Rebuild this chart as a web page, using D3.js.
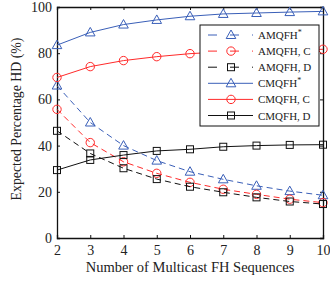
<!DOCTYPE html>
<html>
<head>
<meta charset="utf-8">
<script src="https://cdn.jsdelivr.net/npm/d3@7"></script>
<style>
  body { margin: 0; background: #fff; }
  text { font-family: "Liberation Serif", "Times New Roman", serif; fill: #222; }
</style>
</head>
<body>
<svg id="plot"></svg>
<script>
// Data
const nSeq = [2, 3, 4, 5, 6, 7, 8, 9, 10];
const amqfhStar = [66, 50, 40, 33.5, 28.7, 25.4, 22.6, 20.3, 18.5];
const amqfhC = [55.7, 41.3, 33, 28, 24.1, 21.1, 18.9, 16.8, 15.3];
const amqfhD = [46.4, 36.6, 30.2, 25.5, 22.2, 19.8, 17.6, 15.8, 14.7];
const cmqfhStar = [83.5, 89, 92.4, 94.4, 96, 97, 97.4, 97.8, 98.1];
const cmqfhC = [69.5, 74.2, 76.8, 78.5, 79.8, 80.6, 81.1, 81.4, 81.7];
const cmqfhD = [29.4, 33.8, 35.9, 37.7, 38.4, 39.5, 40, 40.3, 40.4];
const yTicks = [0, 20, 40, 60, 80, 100];

const blue = "#3a5fb8", red = "#ff2a2a", black = "#111";

const series = [
  { name: "AMQFH", sup: "*", values: amqfhStar, color: blue, marker: "tri", dash: "6,4" },
  { name: "AMQFH, C", values: amqfhC, color: red, marker: "circle", dash: "6,4" },
  { name: "AMQFH, D", values: amqfhD, color: black, marker: "square", dash: "6,4" },
  { name: "CMQFH", sup: "*", values: cmqfhStar, color: blue, marker: "tri", dash: null },
  { name: "CMQFH, C", values: cmqfhC, color: red, marker: "circle", dash: null },
  { name: "CMQFH, D", values: cmqfhD, color: black, marker: "square", dash: null }
];

const W = 330, H = 285;
const margin = { top: 7, right: 7, bottom: 47, left: 57 };
const width = W - margin.left - margin.right;
const height = H - margin.top - margin.bottom;

const svg = d3.select("#plot").attr("width", W).attr("height", H);
const g = svg.append("g").attr("transform", `translate(${margin.left},${margin.top})`);

const x = d3.scaleLinear().domain([2, 10]).range([0, width]);
const y = d3.scaleLinear().domain([0, 100]).range([height, 0]);

// axes (inward ticks, box)
g.append("g").attr("transform", `translate(0,${height})`)
  .call(d3.axisBottom(x).tickValues(nSeq).tickSize(-3).tickPadding(7).tickFormat(d3.format("d")))
  .call(a => a.selectAll("text").attr("font-size", 14));
g.append("g")
  .call(d3.axisLeft(y).tickValues(yTicks).tickSize(-3).tickPadding(5))
  .call(a => a.selectAll("text").attr("font-size", 14));
g.append("g")
  .call(d3.axisTop(x).tickValues(nSeq).tickSize(-3).tickFormat(""));
g.append("g").attr("transform", `translate(${width},0)`)
  .call(d3.axisRight(y).tickValues(yTicks).tickSize(-3).tickFormat(""));
g.selectAll(".domain").attr("stroke", "#111").attr("stroke-width", 1.3);
g.selectAll(".tick line").attr("stroke", "#111");

function drawMarker(sel, type, color) {
  if (type === "circle") {
    sel.append("circle").attr("r", 4.2).attr("fill", "none").attr("stroke", color).attr("stroke-width", 1);
  } else if (type === "tri") {
    sel.append("path").attr("d", "M0,-5L4.8,3.5L-4.8,3.5Z").attr("fill", "none").attr("stroke", color).attr("stroke-width", 1);
  } else {
    sel.append("rect").attr("x", -3.5).attr("y", -3.5).attr("width", 7).attr("height", 7)
      .attr("fill", "none").attr("stroke", color).attr("stroke-width", 1);
  }
}

const line = d3.line().x((d, i) => x(nSeq[i])).y(d => y(d));

series.forEach(s => {
  g.append("path").datum(s.values)
    .attr("d", line).attr("fill", "none")
    .attr("stroke", s.color).attr("stroke-width", 1)
    .attr("stroke-dasharray", s.dash);
  g.selectAll(null).data(s.values).enter().append("g")
    .attr("transform", (d, i) => `translate(${x(nSeq[i])},${y(d)})`)
    .each(function() { drawMarker(d3.select(this), s.marker, s.color); });
});

// legend
const lg = svg.append("g").attr("transform", "translate(200,25)");
lg.append("rect").attr("width", 119).attr("height", 101)
  .attr("fill", "#fff").attr("stroke", "#111").attr("stroke-width", 1);
series.forEach((s, i) => {
  const row = lg.append("g").attr("transform", `translate(0,${10 + i * 16.1})`);
  row.append("line").attr("x1", 8).attr("x2", 53).attr("y1", 0).attr("y2", 0)
    .attr("stroke", s.color).attr("stroke-width", 1)
    .attr("stroke-dasharray", s.dash ? "9,13" : null);
  drawMarker(row.append("g").attr("transform", "translate(31,0)"), s.marker, s.color);
  const t = row.append("text").attr("x", 58).attr("y", 4).attr("font-size", 11).text(s.name);
  if (s.sup) t.append("tspan").attr("dy", -4).attr("font-size", 8).text(s.sup);
});

// axis labels
svg.append("text")
  .attr("x", 190).attr("y", 272)
  .attr("text-anchor", "middle").attr("font-size", 14.5)
  .text("Number of Multicast FH Sequences");
svg.append("text")
  .attr("transform", "translate(21,119) rotate(-90)")
  .attr("text-anchor", "middle").attr("font-size", 13.8)
  .text("Expected Percentage HD (%)");
</script>
</body>
</html>
